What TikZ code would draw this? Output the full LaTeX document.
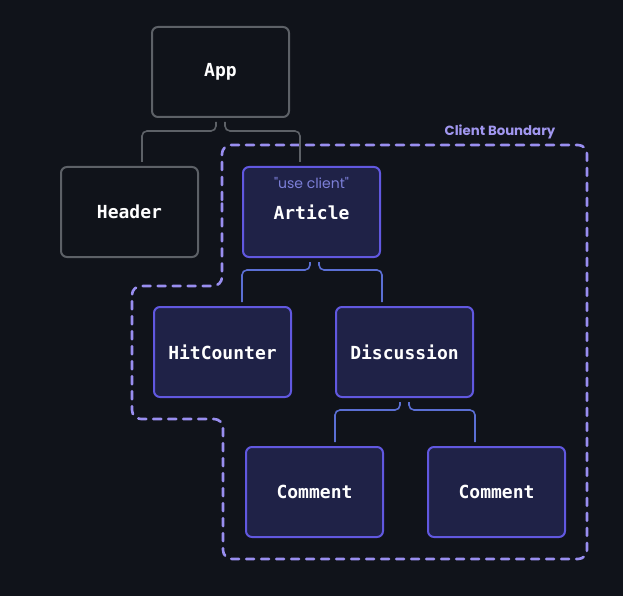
\documentclass[tikz,border=0pt]{standalone}
\usepackage{fontspec}
\newfontfamily\monob{DejaVu Sans Mono}
\newfontfamily\popp{Poppins}
\definecolor{bg}{HTML}{10131A}
\definecolor{graybox}{HTML}{5D6167}
\definecolor{grayfill}{HTML}{10131A}
\definecolor{clfill}{HTML}{1F2247}
\definecolor{clstroke}{HTML}{6158E0}
\definecolor{clconn}{HTML}{5B6FD4}
\definecolor{bound}{HTML}{998EF0}
\definecolor{boundtext}{HTML}{A197F0}
\definecolor{usetext}{HTML}{7C7FD8}
\tikzset{
  box/.style={rectangle, rounded corners=6pt, minimum width=137pt, minimum height=90pt,
    line width=2pt, outer sep=1pt, inner sep=0pt, text=white, font=\monob\bfseries\fontsize{18}{21}\selectfont},
  srvbox/.style={box, draw=graybox, fill=grayfill},
  clibox/.style={box, draw=clstroke, fill=clfill},
  srvconn/.style={draw=graybox, line width=1.6pt, rounded corners=5pt, shorten <=4pt, shorten >=4pt},
  cliconn/.style={draw=clconn, line width=1.6pt, rounded corners=5pt, shorten <=4pt, shorten >=4pt},
  boundary/.style={draw=bound, line width=2.6pt, rounded corners=9pt, dash pattern=on 8pt off 7pt, line cap=round},
}
\begin{document}
\begin{tikzpicture}[x=1pt,y=-1pt]
\fill[bg] (0,0) rectangle (623,596);
\useasboundingbox (0,0) rectangle (623,596);

\draw[boundary] (222,200) -- (222,145) -- (587,145) -- (587,559) -- (223,559) -- (223,419) -- (132,419) -- (132,286) -- (222,286) -- (222,200);
\node[text=boundtext, font=\popp\bfseries\fontsize{13.3}{15}\selectfont] (cb) at (500,132) {Client Boundary};

\node[srvbox] (app) at (220.5,72) {App};
\node[srvbox] (header) at (129.5,212) {Header};
\node[clibox] (article) at (311.5,212) {Article};
\node[text=usetext, font=\popp\fontsize{14}{16}\selectfont] (uc) at (311.5,183) {"use client"};
\node[clibox] (hit) at (222.5,352) {HitCounter};
\node[clibox] (disc) at (404.5,352) {Discussion};
\node[clibox] (c1) at (314.5,492) {Comment};
\node[clibox] (c2) at (496.5,492) {Comment};

\draw[srvconn] ([xshift=-4.5pt]app.south) -- ++(0,13) -| ([xshift=12.5pt]header.north);
\draw[srvconn] ([xshift=4.5pt]app.south) -- ++(0,13) -| ([xshift=-11.5pt]article.north);

\draw[cliconn] ([xshift=-1.5pt]article.south) -- ++(0,12) -| ([xshift=19.5pt]hit.north);
\draw[cliconn] ([xshift=7.5pt]article.south) -- ++(0,12) -| ([xshift=-22.5pt]disc.north);

\draw[cliconn] ([xshift=-4.5pt]disc.south) -- ++(0,12) -| ([xshift=20.5pt]c1.north);
\draw[cliconn] ([xshift=4.5pt]disc.south) -- ++(0,12) -| ([xshift=-21.5pt]c2.north);
\end{tikzpicture}
\end{document}
